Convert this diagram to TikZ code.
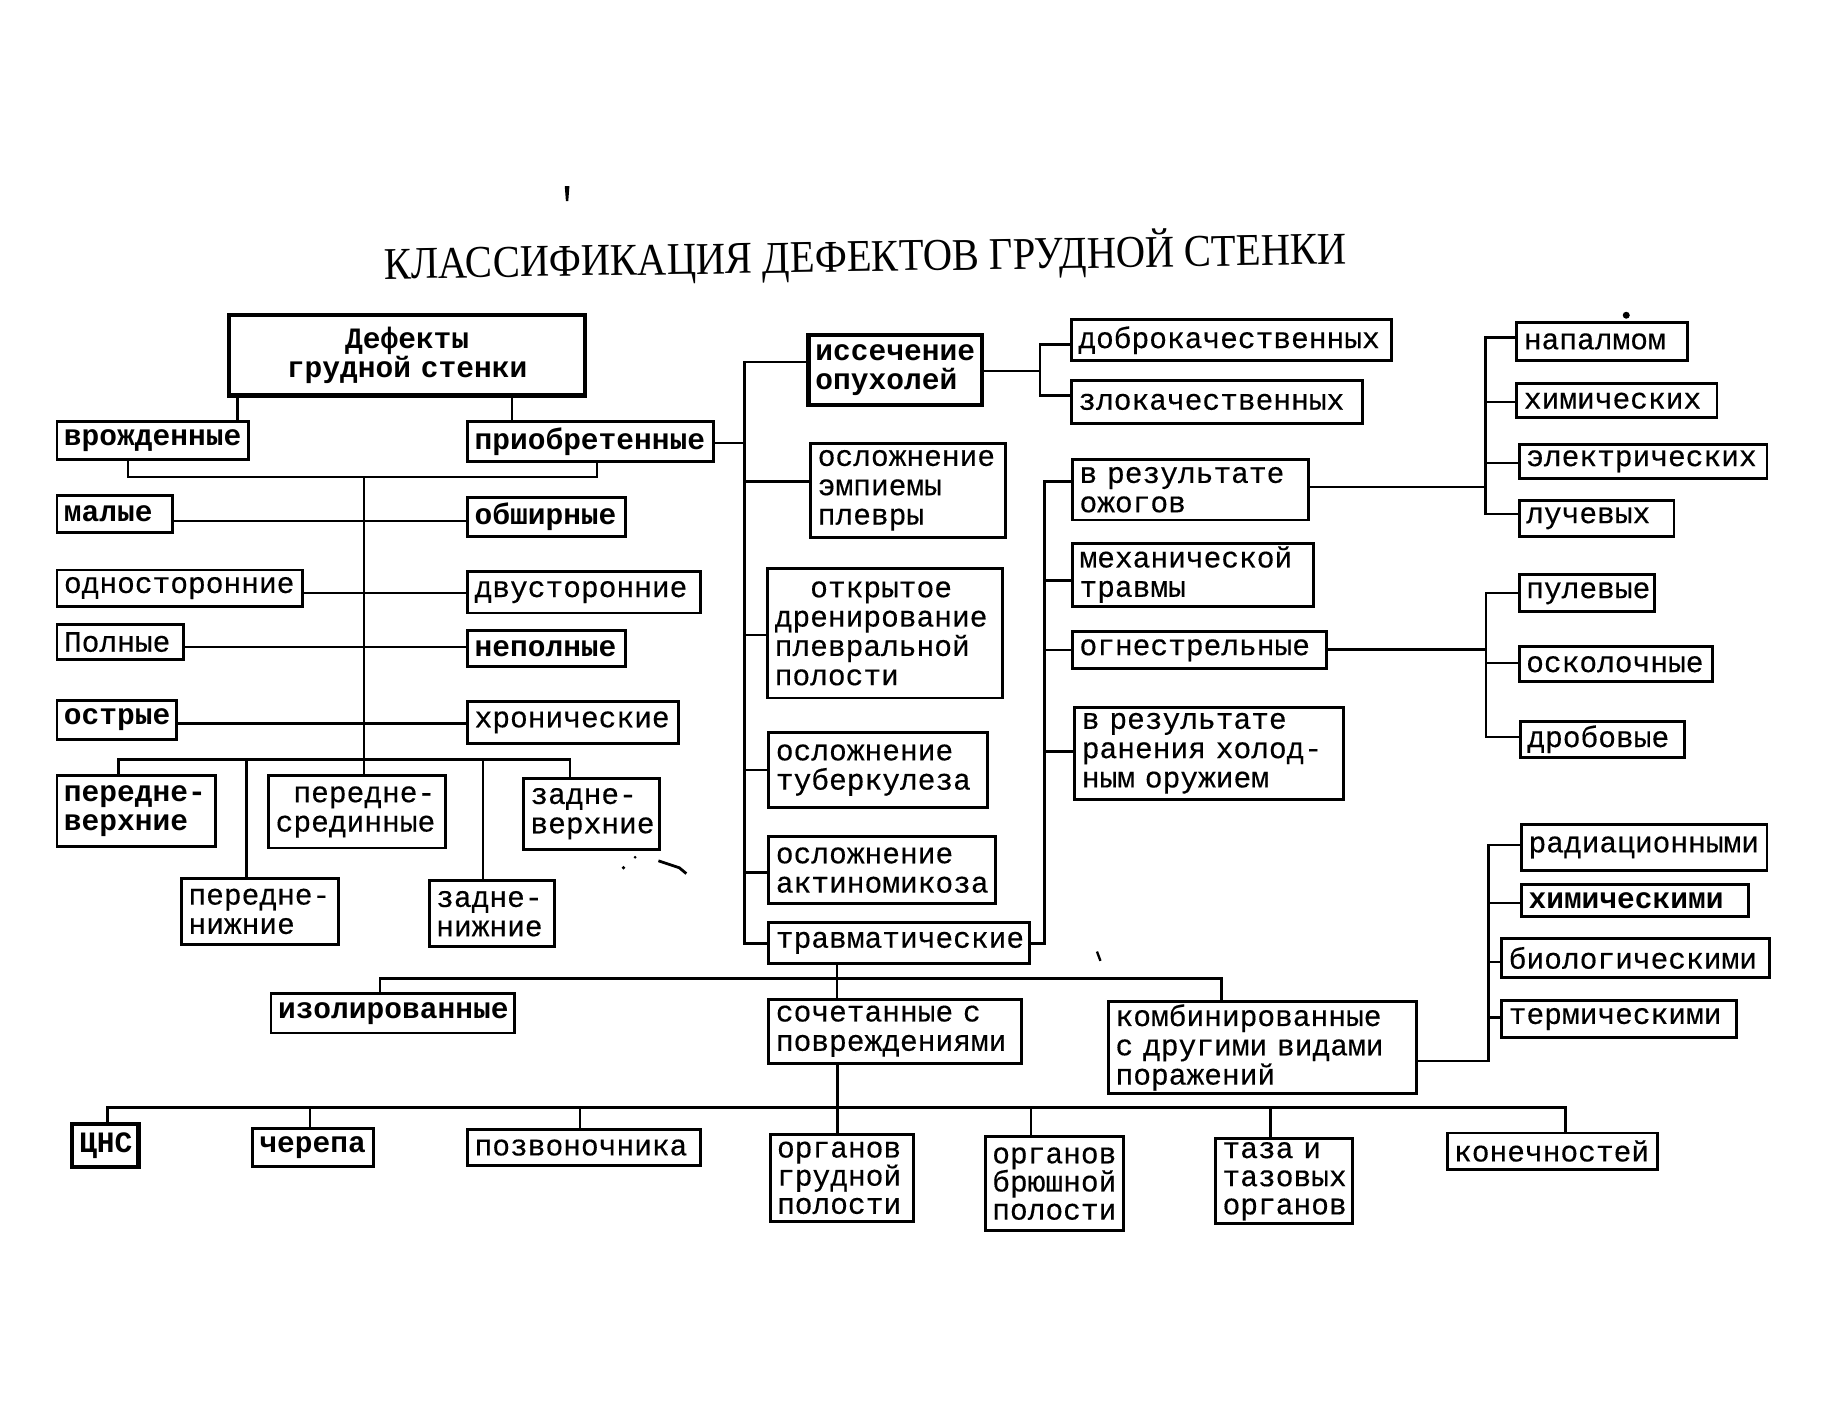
\documentclass[tikz,border=0pt]{standalone}
\usepackage{fontspec}
\usepackage{graphicx}
\newfontfamily\tw[FakeBold=0.35]{Liberation Mono}
\newfontfamily\twb{Liberation Mono Bold}
\newfontfamily\ttl{Liberation Serif}
\tikzset{
  box/.style={draw, line width=1.25pt, rectangle, inner xsep=3pt, inner ysep=0pt,
    font={\tw\fontsize{12.7}{12.6}\selectfont}, align=left, anchor=center},
  bbox/.style={box, font={\twb\fontsize{12.7}{12.6}\selectfont}},
  heavybox/.style={bbox, line width=1.8pt},
  tightbox/.style={box, font={\tw\fontsize{12.7}{12.1}\selectfont}},
  link/.style={line width=1.05pt},
}
\newcommand\bx[7][]{%
  \pgfmathsetmacro\bxw{(#5-#3)*0.5}%
  \pgfmathsetmacro\bxh{(#6-#4)*0.5}%
  \pgfmathsetmacro\bxtw{(#5-#3)*0.5-6}%
  \pgfmathsetmacro\bxcx{(#3+#5)/2}%
  \pgfmathsetmacro\bxcy{(#4+#6)/2}%
  \node[box,#1,minimum width=\bxw pt,minimum height=\bxh pt,text width=\bxtw pt] (#2) at (\bxcx,\bxcy) {#7};}
\begin{document}
\begin{tikzpicture}[x=0.5pt,y=-0.5pt]
\useasboundingbox[fill=white] (0,0) rectangle (1568,1219);

% title
\node[rotate=0.9, inner sep=0pt, font=\ttl] (title) at (744,221)
  {\scalebox{1}[1.12]{\resizebox{414pt}{!}{\fontsize{19}{19}\selectfont КЛАССИФИКАЦИЯ ДЕФЕКТОВ ГРУДНОЙ СТЕНКИ}}};
\fill (485.5,160) -- (489.5,160) -- (488.5,173) -- (486.5,173) -- cycle;

% left part
\bx[heavybox,align=center]{def}{197}{271}{503}{340}{Дефекты\\грудной стенки}
\bx[bbox]{vr}{49}{362}{214}{395}{врожденные}
\bx[bbox]{pr}{402}{362}{613}{397}{приобретенные}
\bx[bbox]{mal}{49}{426}{148}{458}{малые}
\bx[bbox]{obsh}{402}{428}{538}{461}{обширные}
\bx{odno}{49}{490}{260}{521}{односторонние}
\bx{dvu}{402}{491}{602}{527}{двусторонние}
\bx{poln}{49}{537}{158}{567}{Полные}
\bx[bbox]{nepoln}{402}{542}{538}{573}{неполные}
\bx[bbox]{ostr}{49}{602}{152}{636}{острые}
\bx{hron}{402}{603}{583}{639}{хронические}
\bx[bbox]{pv}{49}{667}{185}{728}{передне-\\верхние}
\bx{ps}{231}{667}{383}{729}{\hphantom{x}передне-\\срединные}
\bx{zv}{450}{669}{567}{730}{задне-\\верхние}
\bx{pn}{156}{755}{291}{812}{передне-\\нижние}
\bx{zn}{369}{757}{477}{814}{задне-\\нижние}

% middle column
\bx[heavybox]{isech}{695}{288}{844}{348}{иссечение\\опухолей}
\bx{emp}{697}{381}{864}{462}{осложнение\\эмпиемы\\плевры}
\bx{otkr}{660}{489}{862}{600}{\hphantom{xx}открытое\\дренирование\\плевральной\\полости}
\bx{tub}{661}{630}{849}{694}{осложнение\\туберкулеза}
\bx{akt}{661}{719}{856}{777}{осложнение\\актиномикоза}
\bx{trav}{661}{793}{885}{828}{травматические}

\bx{dobro}{921}{275}{1196}{310}{доброкачественных}
\bx{zlo}{921}{327}{1171}{364}{злокачественных}
\bx{ozh}{922}{395}{1125}{447}{в результате\\ожогов}
\bx{meh}{922}{467}{1129}{521}{механической\\травмы}
\bx{ogn}{922}{543}{1140}{575}{огнестрельные}
\bx{ran}{924}{608}{1155}{687}{в результате\\ранения холод-\\ным оружием}

% right column
\bx{napalm}{1304}{277}{1451}{310}{напалмом}
\bx{him}{1304}{330}{1476}{359}{химических}
\bx{elek}{1306}{382}{1519}{411}{электрических}
\bx{luch}{1306}{430}{1439}{461}{лучевых}
\bx{pul}{1306}{494}{1422}{526}{пулевые}
\bx{osk}{1306}{556}{1472}{586}{осколочные}
\bx{drob}{1307}{620}{1448}{651}{дробовые}
\bx{rad}{1308}{709}{1519}{748}{радиационными}
\bx[bbox]{himb}{1308}{760}{1503}{788}{химическими}
\bx{bio}{1291}{807}{1521}{840}{биологическими}
\bx{term}{1291}{860}{1493}{892}{термическими}

% lower part
\bx[bbox]{izol}{233}{854}{442}{888}{изолированные}
\bx{soch}{661}{859}{878}{914}{сочетанные с\\повреждениями}
\bx{komb}{953}{861}{1218}{940}{комбинированные\\с другими видами\\поражений}
\bx[heavybox,inner xsep=1pt,text width=26.5pt]{cns}{62}{966}{119}{1003}{ЦНС}
\bx[bbox]{cher}{217}{970}{321}{1003}{черепа}
\bx{pozv}{402}{971}{602}{1002}{позвоночника}
\bx[tightbox]{orga}{662}{975}{785}{1050}{органов\\грудной\\полости}
\bx[tightbox]{orgb}{847}{977}{966}{1058}{органов\\брюшной\\полости}
\bx[tightbox]{taz}{1045}{979}{1163}{1052}{таза и\\тазовых\\органов}
\bx{kon}{1244}{974}{1425}{1005}{конечностей}

% ---------- connectors: left
\coordinate (c1) at (204,0); \coordinate (c2) at (440,0);
\draw[link] (def.south -| c1) -- (vr.north -| c1);
\draw[link] (def.south -| c2) -- (pr.north -| c2);
\coordinate (b1) at (110,410); \coordinate (b2) at (513,410); \coordinate (t2) at (313,653);
\draw[link] (vr.south -| b1) -- (b1) -- (b2) -- (pr.south -| b2);
\draw[link] (b1 -| t2) -- (t2);
\coordinate (L1) at (0,448); \coordinate (L2) at (0,510);
\coordinate (L3) at (0,556); \coordinate (L4) at (0,622);
\draw[link] (mal.east |- L1) -- (obsh.west |- L1);
\draw[link] (odno.east |- L2) -- (dvu.west |- L2);
\draw[link] (poln.east |- L3) -- (nepoln.west |- L3);
\draw[link] (ostr.east |- L4) -- (hron.west |- L4);
\coordinate (B1) at (102,653); \coordinate (B2) at (490,653);
\draw[link] (pv.north -| B1) -- (B1) -- (B2) -- (zv.north -| B2);
\coordinate (D1) at (212,653); \coordinate (D3) at (415,653);
\draw[link] (D1) -- (pn.north -| D1);
\draw[link] (t2) -- (ps.north -| t2);
\draw[link] (D3) -- (zn.north -| D3);

% ---------- connectors: middle
\coordinate (S0) at (640,381); \coordinate (Stop) at (640,311); \coordinate (Sbot) at (640,811);
\draw[link] (pr.east |- S0) -- (S0);
\draw[link] (isech.west |- Stop) -- (Stop) -- (Sbot) -- (trav.west |- Sbot);
\foreach \n/\y in {emp/414, otkr/546, tub/662, akt/750}
  {\coordinate (tmp) at (640,\y); \draw[link] (tmp) -- (\n.west |- tmp);}
\coordinate (K1) at (894,319); \coordinate (K2) at (894,296); \coordinate (K3) at (894,340);
\draw[link] (isech.east |- K1) -- (K1);
\draw[link] (dobro.west |- K2) -- (K2) -- (K3) -- (zlo.west |- K3);
\coordinate (Q1) at (898,414); \coordinate (Q2) at (898,811);
\draw[link] (ozh.west |- Q1) -- (Q1) -- (Q2) -- (trav.east |- Q2);
\foreach \n/\y in {meh/499, ogn/559, ran/646}
  {\coordinate (tmp) at (898,\y); \draw[link] (tmp) -- (\n.west |- tmp);}

% ---------- connectors: right
\coordinate (R0) at (1277,418.5); \coordinate (R1) at (1277,290); \coordinate (R4) at (1277,442);
\draw[link] (ozh.east |- R0) -- (R0);
\draw[link] (napalm.west |- R1) -- (R1) -- (R4) -- (luch.west |- R4);
\foreach \n/\y in {him/345.4, elek/398}
  {\coordinate (tmp) at (1277,\y); \draw[link] (tmp) -- (\n.west |- tmp);}
\coordinate (P0) at (1277.6,558.3); \coordinate (P1) at (1277.6,510);
\coordinate (P2) at (1277.6,570); \coordinate (P3) at (1277.6,633.4);
\draw[link] (ogn.east |- P0) -- (P0);
\draw[link] (pul.west |- P1) -- (P1) -- (P3) -- (drob.west |- P3);
\draw[link] (P2) -- (osk.west |- P2);

% ---------- connectors: lower
\coordinate (H0) at (719.5,841); \coordinate (H1) at (326.6,841); \coordinate (H2) at (1050,841);
\draw[link] (izol.north -| H1) -- (H1) -- (H2) -- (komb.north -| H2);
\draw[link] (trav.south -| H0) -- (soch.north -| H0);
\coordinate (T0) at (1279.7,912); \coordinate (T1) at (1279.7,726.6);
\draw[link] (komb.east |- T0) -- (T0) -- (T1) -- (rad.west |- T1);
\foreach \n/\y in {himb/776.2, bio/826.9, term/874.7}
  {\coordinate (tmp) at (1279.7,\y); \draw[link] (tmp) -- (\n.west |- tmp);}
\coordinate (G1) at (92.6,952); \coordinate (G2) at (1345.7,952); \coordinate (G0) at (720,952);
\draw[link] (cns.north -| G1) -- (G1) -- (G2) -- (kon.north -| G2);
\draw[link] (soch.south -| G0) -- (orga.north -| G0);
\foreach \n/\x in {cher/266.4, pozv/498.4, orgb/886.3, taz/1092.3}
  {\coordinate (tmp) at (\x,952); \draw[link] (tmp) -- (\n.north -| tmp);}

% scan specks
\fill (1398,271) circle (3);
\draw[line width=1.2pt] (566,740) -- (584,746) -- (590,751);
\fill (536,746) circle (1.6);
\fill (546,737) circle (1.3);
\draw[line width=1pt] (943,818) -- (946,826);
\end{tikzpicture}
\end{document}
